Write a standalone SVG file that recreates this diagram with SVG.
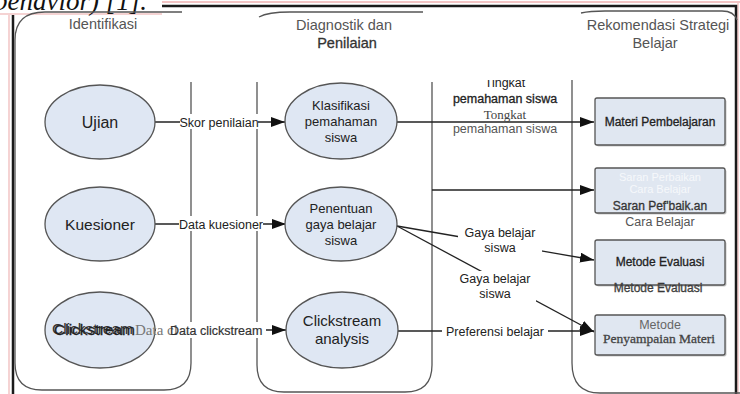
<svg xmlns="http://www.w3.org/2000/svg" width="740" height="394" viewBox="0 0 740 394">
<defs>
<style>
.lane{fill:none;stroke:#555;stroke-width:1.3}
.ell{fill:#dfe7f3;stroke:#555;stroke-width:1.3}
.box{fill:#e0e7f1;stroke:#555;stroke-width:1.3}
.shadow{fill:#9a9a9a;opacity:.55}
.hdr{font-family:"Liberation Sans",Arial,sans-serif;font-size:14.5px;fill:#555;text-anchor:middle}
.nt{font-family:"Liberation Sans",Arial,sans-serif;fill:#222;text-anchor:middle}
.lbl{font-family:"Liberation Sans",Arial,sans-serif;font-size:12.5px;fill:#222;text-anchor:middle}
.bg{fill:#fff}
.con{fill:none;stroke:#222;stroke-width:1.3}
.thick{stroke:#222;stroke-width:0.3}
</style>
<marker id="ah" viewBox="0 0 14 10" refX="14" refY="5" markerWidth="14" markerHeight="10" markerUnits="userSpaceOnUse" orient="auto">
<path d="M0,0 L14,5 L0,10 z" fill="#111"/>
</marker>
</defs>
<rect x="0" y="0" width="740" height="394" fill="#fff"/>
<g id="page">
<line x1="0" y1="2" x2="740" y2="2" stroke="#f2c4c4" stroke-width="2"/>
<line x1="9" y1="2" x2="9" y2="394" stroke="#f2c4c4" stroke-width="1.5"/>
<line x1="738" y1="2" x2="738" y2="394" stroke="#f2c4c4" stroke-width="1.5"/>
<rect x="13" y="6" width="723" height="400" fill="none" stroke="#1a1a1a" stroke-width="2.5"/>
<rect x="0" y="0" width="162" height="15" fill="#fff"/>
<line x1="0" y1="14" x2="162" y2="14" stroke="#f2c4c4" stroke-width="1.5"/>
<text x="-6" y="10" font-family="'Liberation Serif','Times New Roman',serif" font-style="italic" font-size="27" fill="#111">behavior) [1].</text>
</g>
<g id="lane-identifikasi">
<path class="lane" d="M182,12 H45 Q15,12 15,40 V363 Q15,390 42,390 H164 Q191,390 191,363 V82"/>
<text class="hdr" x="103" y="29">Identifikasi</text>
</g>
<g id="lane-diagnostik">
<path class="lane" d="M259,17 Q268,12 290,12 H423"/>
<path class="lane" d="M257,82 V365 Q257,392 284,392 H405 Q432,392 432,365 V82"/>
<text class="hdr" x="344" y="30">Diagnostik dan</text>
<text class="hdr" x="347" y="48" style="fill:#333" stroke="#333" stroke-width="0.3">Penilaian</text>
</g>
<g id="lane-rekomendasi">
<path class="lane" d="M581,13 Q590,11 605,11 H722 Q734,11 737,20"/>
<path class="lane" d="M572,80 V363 Q572,393 600,393 H745"/>
<text class="hdr" x="658" y="30">Rekomendasi Strategi</text>
<text class="hdr" x="655" y="48">Belajar</text>
</g>
<g id="connectors">
<line class="con" x1="155" y1="122" x2="285" y2="122" marker-end="url(#ah)"/>
<line class="con" x1="155" y1="224" x2="286" y2="224" marker-end="url(#ah)"/>
<line class="con" x1="155" y1="330" x2="286" y2="330" marker-end="url(#ah)"/>
<line class="con" x1="397" y1="122" x2="594" y2="122" marker-end="url(#ah)"/>
<line class="con" x1="432" y1="190" x2="594" y2="190" marker-end="url(#ah)"/>
<line class="con" x1="397" y1="226" x2="594" y2="260" marker-end="url(#ah)"/>
<line class="con" x1="397" y1="226" x2="594" y2="332" marker-end="url(#ah)"/>
<line class="con" x1="398" y1="331" x2="594" y2="331" marker-end="url(#ah)"/>
<rect class="bg" x="180" y="114" width="78" height="15"/>
<text class="lbl" x="219" y="126.5">Skor penilaian</text>
<rect class="bg" x="179" y="216" width="84" height="15"/>
<text class="lbl" x="221" y="228.5">Data kuesioner</text>
<text class="lbl" x="505" y="87">Tingkat</text>
<rect class="bg" x="480" y="76" width="50" height="4"/>
<text class="lbl thick" x="505" y="103">pemahaman siswa</text>
<text x="505" y="119" font-family="'Liberation Serif','Times New Roman',serif" font-size="13" fill="#444" text-anchor="middle">Tongkat</text>
<text class="lbl" x="505" y="133" style="fill:#555">pemahaman siswa</text>
<rect class="bg" x="458" y="226" width="84" height="30"/>
<text class="lbl" x="500" y="237">Gaya belajar</text>
<text class="lbl" x="500" y="252">siswa</text>
<rect class="bg" x="456" y="271" width="80" height="32"/>
<text class="lbl" x="495" y="283">Gaya belajar</text>
<text class="lbl" x="495" y="298">siswa</text>
<rect class="bg" x="442" y="323" width="106" height="16"/>
<text class="lbl" x="495" y="335.5">Preferensi belajar</text>
</g>
<g id="node-ujian">
<ellipse class="ell" cx="100" cy="122" rx="55" ry="37"/>
<text class="nt" x="100" y="127.5" font-size="16">Ujian</text>
</g>
<g id="node-kuesioner">
<ellipse class="ell" cx="100" cy="224" rx="55" ry="37"/>
<text class="nt" x="100" y="229.5" font-size="15.5">Kuesioner</text>
</g>
<g id="node-clickstream">
<ellipse class="ell" cx="100" cy="330" rx="55" ry="38"/>
<rect class="bg" x="156" y="322" width="110" height="16"/>
<text x="52" y="333.5" font-family="'Liberation Sans',Arial,sans-serif" font-size="15.5" fill="#333">Clickstream</text>
<text x="54" y="335" font-family="'Liberation Sans',Arial,sans-serif" font-size="15.5" fill="#222" stroke="#222" stroke-width="0.3">Clickstream</text>
<text x="135" y="335" font-family="'Liberation Serif','Times New Roman',serif" font-size="15" fill="#777">Data cl</text>
<text x="170" y="334.5" font-family="'Liberation Sans',Arial,sans-serif" font-size="12.5" fill="#333" stroke="#333" stroke-width="0.2">Data clickstream</text>
</g>
<g id="node-klasifikasi">
<ellipse class="ell" cx="341" cy="121" rx="56" ry="38"/>
<text class="nt" x="341" y="109.5" font-size="13">Klasifikasi</text>
<text class="nt" x="341" y="125.5" font-size="13">pemahaman</text>
<text class="nt" x="341" y="141.5" font-size="13">siswa</text>
</g>
<g id="node-penentuan">
<ellipse class="ell" cx="341" cy="224" rx="56" ry="37"/>
<text class="nt" x="341" y="212.5" font-size="13">Penentuan</text>
<text class="nt" x="341" y="228.5" font-size="13">gaya belajar</text>
<text class="nt" x="341" y="244.5" font-size="13">siswa</text>
</g>
<g id="node-analysis">
<ellipse class="ell" cx="342" cy="330" rx="56" ry="38"/>
<text class="nt" x="342" y="325.5" font-size="15">Clickstream</text>
<text class="nt" x="342" y="343.5" font-size="15">analysis</text>
</g>
<g id="node-materi">
<rect class="shadow" x="596.5" y="99.5" width="130" height="47" rx="2"/>
<rect class="box" x="595" y="98" width="130" height="47" rx="2"/>
<text class="nt thick" x="660" y="126" font-size="12">Materi Pembelajaran</text>
</g>
<g id="node-saran">
<rect class="shadow" x="596.5" y="169.5" width="130" height="45" rx="2"/>
<rect class="box" x="595" y="168" width="130" height="45" rx="2"/>
<text class="nt" x="660" y="181" font-size="11" style="fill:#f6f8fb">Saran Perbaikan</text>
<text class="nt" x="660" y="192.5" font-size="11" style="fill:#f6f8fb">Cara Belajar</text>
<text class="nt thick" x="660" y="210" font-size="12" style="fill:#444">Saran Pef'baik.an</text>
<text class="nt" x="660" y="225.5" font-size="12.5" style="fill:#555">Cara Belajar</text>
</g>
<g id="node-evaluasi">
<rect class="shadow" x="596.5" y="241.5" width="130" height="45" rx="2"/>
<rect class="box" x="595" y="240" width="130" height="45" rx="2"/>
<text class="nt thick" x="660" y="266" font-size="12">Metode Evaluasi</text>
<text class="nt thick" x="658" y="292" font-size="12" style="fill:#555">Metode Evaluasi</text>
</g>
<g id="node-penyampaian">
<rect class="shadow" x="596.5" y="316.5" width="130" height="40" rx="2"/>
<rect class="box" x="595" y="315" width="130" height="40" rx="2"/>
<text class="nt" x="660" y="328.5" font-size="12.5" style="fill:#666">Metode</text>
<text x="659" y="343" font-family="'Liberation Serif','Times New Roman',serif" font-size="13.5" fill="#444" stroke="#444" stroke-width="0.3" text-anchor="middle">Penyampaian Materi</text>
</g>
</svg>
